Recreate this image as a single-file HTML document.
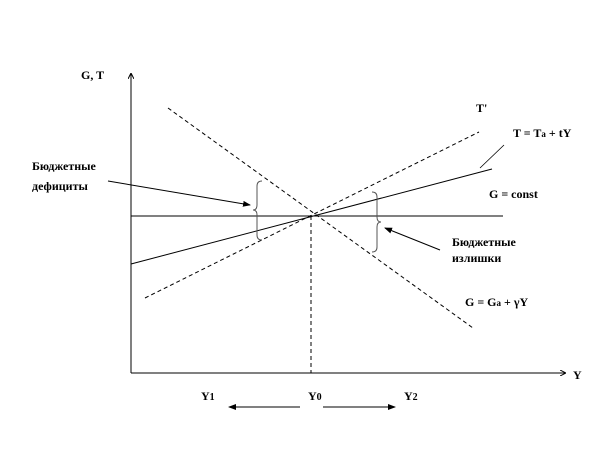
<!DOCTYPE html>
<html><head><meta charset="utf-8"><style>
body{margin:0;background:#fff;width:602px;height:468px;overflow:hidden}
svg text{font-family:"Liberation Serif",serif;font-weight:bold;font-size:12px;fill:#000}
</style></head><body>
<svg width="602" height="468" xmlns="http://www.w3.org/2000/svg">
<defs>
<marker id="a" markerWidth="8" markerHeight="6" refX="7" refY="3" orient="auto" markerUnits="userSpaceOnUse"><path d="M0,0 L8,3 L0,6 z" fill="#000"/></marker>
<marker id="s" markerWidth="6" markerHeight="6" refX="5" refY="3" orient="auto" markerUnits="userSpaceOnUse"><path d="M0,0 L6,3 L0,6" fill="none" stroke="#000"/></marker>
</defs>
<g stroke="#000" stroke-width="1" fill="none">
<line x1="131" y1="373" x2="131" y2="74" marker-end="url(#s)"/>
<line x1="131" y1="373" x2="565" y2="373" marker-end="url(#s)"/>
<line x1="131" y1="216" x2="503" y2="216"/>
<line x1="131" y1="264" x2="492" y2="169"/>
<line x1="504" y1="145" x2="480" y2="168" stroke-width="0.8"/>
<line x1="145" y1="298" x2="479" y2="132" stroke-dasharray="4,3"/>
<line x1="168" y1="108" x2="473" y2="328" stroke-dasharray="4,3"/>
<line x1="311" y1="216" x2="311" y2="373" stroke-dasharray="4,3"/>
<path d="M262,181 Q257,181 257,186 L257,205 Q257,210 253,210 Q257,210 257,215 L257,235 Q257,240 262,240" stroke="#555"/>
<path d="M372,192 Q377,192 377,197 L377,217 Q377,222 381,222 Q377,222 377,227 L377,247 Q377,252 372,252" stroke="#555"/>
<line x1="108" y1="181" x2="250" y2="205" marker-end="url(#a)"/>
<line x1="440" y1="250" x2="385" y2="228" marker-end="url(#a)"/>
<line x1="300" y1="407" x2="229" y2="407" marker-end="url(#a)"/>
<line x1="323" y1="407" x2="395" y2="407" marker-end="url(#a)"/>
</g>
<text x="81" y="79">G, T</text>
<text x="32" y="170" font-size="11">Бюджетные</text>
<text x="32" y="190" font-size="11">дефициты</text>
<text x="476" y="112">T'</text>
<text x="513" y="137">T = T<tspan font-size="9">a</tspan> + tY</text>
<text x="489" y="198">G = const</text>
<text x="452" y="246" font-size="11">Бюджетные</text>
<text x="452" y="262" font-size="11">излишки</text>
<text x="465" y="306">G = G<tspan font-size="9">a</tspan> + γY</text>
<text x="573" y="379">Y</text>
<text x="201" y="400">Y<tspan font-size="10">1</tspan></text>
<text x="308" y="400">Y<tspan font-size="10">0</tspan></text>
<text x="404" y="400">Y<tspan font-size="10">2</tspan></text>
</svg>
</body></html>
